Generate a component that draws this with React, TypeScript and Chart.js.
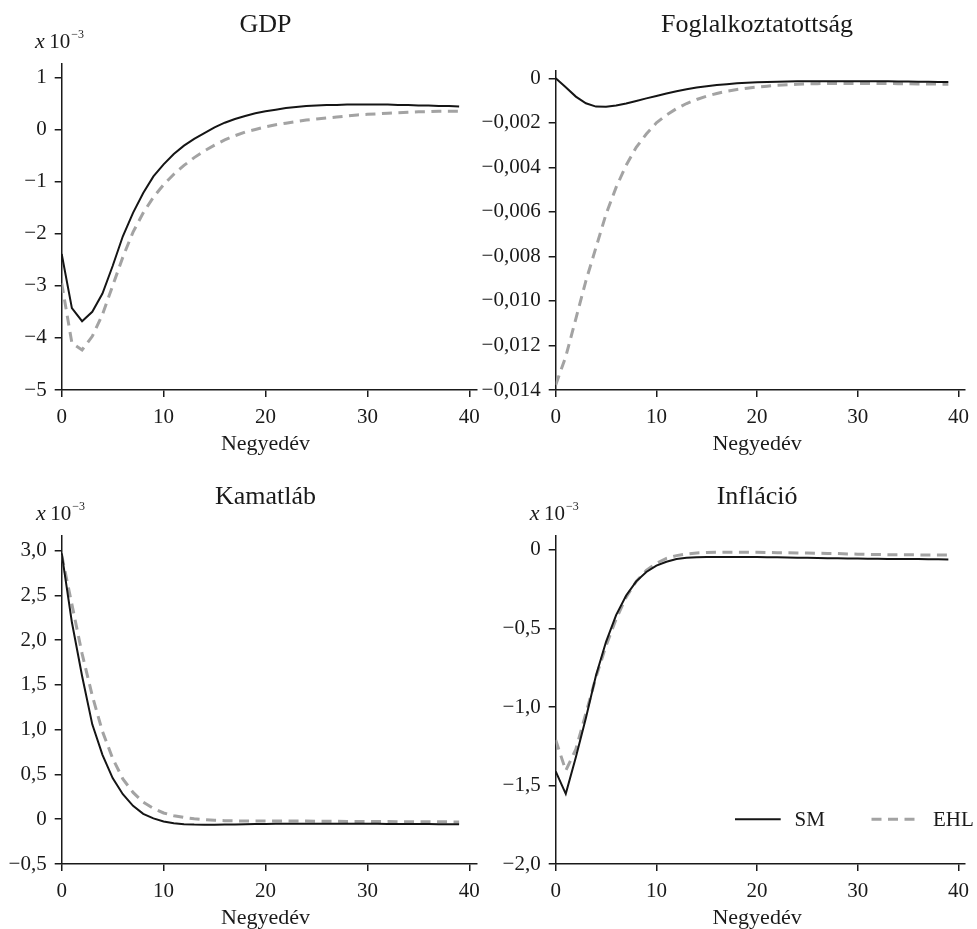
import React, { useEffect, useRef } from 'react';
import { Chart, registerables } from 'chart.js';

Chart.register(...registerables);

// ---------- DATA ----------
const quarters = [0,1,2,3,4,5,6,7,8,9,10,11,12,13,14,15,16,17,18,19,20,21,22,23,24,25,26,27,28,29,30,31,32,33,34,35,36,37,38,39];
const xTicks = [0, 10, 20, 30, 40];
const seriesNames = ['SM', 'EHL'];

const gdpSM = [-2.39,-3.43,-3.68,-3.50,-3.15,-2.62,-2.05,-1.60,-1.22,-0.90,-0.67,-0.47,-0.31,-0.18,-0.07,0.04,0.13,0.20,0.26,0.31,0.35,0.38,0.41,0.43,0.45,0.46,0.47,0.47,0.48,0.48,0.48,0.48,0.48,0.47,0.47,0.46,0.46,0.45,0.45,0.44];
const gdpEHL = [-2.95,-4.10,-4.23,-3.97,-3.55,-3.00,-2.45,-1.97,-1.60,-1.30,-1.06,-0.86,-0.69,-0.54,-0.41,-0.30,-0.20,-0.12,-0.05,0.00,0.05,0.09,0.12,0.15,0.18,0.20,0.22,0.24,0.26,0.28,0.29,0.30,0.31,0.32,0.33,0.34,0.34,0.35,0.35,0.35];

const empSM = [0,-0.0004,-0.00082,-0.00112,-0.00127,-0.00128,-0.00122,-0.00113,-0.00102,-0.0009,-0.00079,-0.00068,-0.00058,-0.00049,-0.00041,-0.00035,-0.0003,-0.00026,-0.00022,-0.0002,-0.00018,-0.00016,-0.00015,-0.00014,-0.00013,-0.00013,-0.00013,-0.00013,-0.00013,-0.00013,-0.00013,-0.00013,-0.00013,-0.00013,-0.00014,-0.00014,-0.00015,-0.00015,-0.00016,-0.00016];
const empEHL = [-0.01377,-0.0125,-0.0108,-0.0091,-0.0076,-0.0061,-0.0049,-0.0039,-0.0031,-0.0025,-0.002,-0.00165,-0.00136,-0.00113,-0.00095,-0.0008,-0.00068,-0.00058,-0.0005,-0.00044,-0.00039,-0.00035,-0.00031,-0.00029,-0.00027,-0.00025,-0.00024,-0.00023,-0.00023,-0.00023,-0.00023,-0.00023,-0.00023,-0.00023,-0.00024,-0.00024,-0.00025,-0.00025,-0.00026,-0.00026];

const rateSM = [2.97,2.2,1.6,1.06,0.72,0.46,0.28,0.15,0.06,0.01,-0.025,-0.045,-0.055,-0.06,-0.062,-0.062,-0.06,-0.058,-0.056,-0.054,-0.052,-0.05,-0.05,-0.05,-0.05,-0.05,-0.05,-0.05,-0.05,-0.05,-0.05,-0.051,-0.052,-0.052,-0.053,-0.054,-0.054,-0.055,-0.055,-0.056];
const rateEHL = [2.95,2.4,1.85,1.38,0.98,0.68,0.45,0.3,0.19,0.12,0.07,0.04,0.02,0.005,-0.005,-0.012,-0.016,-0.018,-0.02,-0.02,-0.02,-0.02,-0.02,-0.021,-0.021,-0.022,-0.022,-0.023,-0.024,-0.024,-0.025,-0.026,-0.026,-0.027,-0.027,-0.028,-0.028,-0.029,-0.029,-0.03];

const inflSM = [-1.41,-1.553,-1.32,-1.07,-0.80,-0.585,-0.415,-0.29,-0.20,-0.14,-0.10,-0.075,-0.058,-0.05,-0.046,-0.045,-0.045,-0.045,-0.045,-0.045,-0.045,-0.046,-0.047,-0.048,-0.049,-0.05,-0.051,-0.052,-0.053,-0.054,-0.055,-0.056,-0.056,-0.057,-0.057,-0.058,-0.058,-0.059,-0.059,-0.06];
const inflEHL = [-1.21,-1.405,-1.27,-1.04,-0.81,-0.61,-0.44,-0.30,-0.20,-0.13,-0.085,-0.053,-0.036,-0.026,-0.019,-0.016,-0.015,-0.015,-0.015,-0.015,-0.015,-0.016,-0.017,-0.018,-0.019,-0.02,-0.021,-0.022,-0.023,-0.025,-0.027,-0.028,-0.029,-0.03,-0.03,-0.031,-0.031,-0.032,-0.032,-0.032];

const titles = ['GDP', 'Foglalkoztatottság', 'Kamatláb', 'Infláció'];
const xAxisTitle = 'Negyedév';
const exponentText = ['x', '10', '−3'];

// ---------- LAYOUT / STYLE ----------
const FONT = '"Liberation Serif", "DejaVu Serif", serif';
const INK = '#1a1a1a';
const SM_COLOR = '#151515';
const EHL_COLOR = '#a3a3a3';
const EHL_DASH = [10, 6.5];
const TICK_SIZE = 21;

type Panel = {
  title: string; sm: number[]; ehl: number[];
  yMin: number; yMax: number; yStep: number; dec: number; xMax: number;
  box: { left: number; top: number; width: number; height: number };
  area: { left: number; top: number; right: number; bottom: number };
  titleY: number; axisTitleY: number;
  exp: null | { x: number; y: number };
  legend: null | { y: number; x1: number; x2: number; tx1: number; x3: number; x4: number; tx2: number; ty: number };
};

const panels: Panel[] = [
  {
    title: titles[0], sm: gdpSM, ehl: gdpEHL, yMin: -5, yMax: 1.27, yStep: 1, dec: 0, xMax: 40.7,
    box: { left: 0, top: 0, width: 488, height: 460 },
    area: { left: 61.7, top: 63.3, right: 477.7, bottom: 390 },
    titleY: 32, axisTitleY: 450, exp: { x: 35, y: 47.5 }, legend: null,
  },
  {
    title: titles[1], sm: empSM, ehl: empEHL, yMin: -0.014, yMax: 0.00033, yStep: 0.002, dec: 3, xMax: 40.62,
    box: { left: 470, top: 0, width: 507, height: 460 },
    area: { left: 85.7, top: 71, right: 501, bottom: 390 },
    titleY: 32, axisTitleY: 450, exp: null, legend: null,
  },
  {
    title: titles[2], sm: rateSM, ehl: rateEHL, yMin: -0.5, yMax: 3.164, yStep: 0.5, dec: 1, xMax: 40.7,
    box: { left: 0, top: 460, width: 488, height: 469 },
    area: { left: 61.7, top: 76, right: 477.7, bottom: 404 },
    titleY: 44, axisTitleY: 464, exp: { x: 36, y: 60 }, legend: null,
  },
  {
    title: titles[3], sm: inflSM, ehl: inflEHL, yMin: -2, yMax: 0.089, yStep: 0.5, dec: 1, xMax: 40.62,
    box: { left: 470, top: 460, width: 507, height: 469 },
    area: { left: 85.7, top: 76, right: 501, bottom: 404 },
    titleY: 44, axisTitleY: 464, exp: { x: 59.7, y: 60 },
    legend: { y: 359.3, x1: 265, x2: 310.7, tx1: 324.5, x3: 401.5, x4: 447, tx2: 463, ty: 366 },
  },
];

const fmt = (v: number, d: number) => {
  if (Math.abs(v) < 1e-9) return '0';
  return (v < 0 ? '−' : '') + Math.abs(v).toFixed(d).replace('.', ',');
};

const textPlugin = {
  id: 'panelText',
  afterDraw(chart: any, _args: any, opts: any) {
    const p: Panel = opts.panel;
    if (!p) return;
    const ctx = chart.ctx as CanvasRenderingContext2D;
    const xs = chart.scales.x;
    const cx = (xs.getPixelForValue(xTicks[0]) + xs.getPixelForValue(xTicks[xTicks.length - 1])) / 2;
    ctx.save();
    ctx.fillStyle = INK;
    ctx.textBaseline = 'alphabetic';
    ctx.textAlign = 'center';
    ctx.font = `26px ${FONT}`;
    ctx.fillText(p.title, cx, p.titleY);
    ctx.font = `22px ${FONT}`;
    ctx.fillText(xAxisTitle, cx, p.axisTitleY);
    if (p.exp) {
      ctx.textAlign = 'left';
      let x = p.exp.x;
      ctx.font = `italic 22px ${FONT}`;
      ctx.fillText(exponentText[0], x, p.exp.y);
      x += ctx.measureText(exponentText[0] + ' ').width - 1;
      ctx.font = `21px ${FONT}`;
      ctx.fillText(exponentText[1], x, p.exp.y);
      x += ctx.measureText(exponentText[1]).width + 1;
      ctx.font = `12px ${FONT}`;
      ctx.fillText(exponentText[2], x, p.exp.y - 10);
    }
    if (p.legend) {
      const L = p.legend;
      const ds = chart.data.datasets;
      const items = [
        { x1: L.x1, x2: L.x2, tx: L.tx1, d: ds[0] },
        { x1: L.x3, x2: L.x4, tx: L.tx2, d: ds[1] },
      ];
      for (const it of items) {
        ctx.save();
        ctx.strokeStyle = it.d.borderColor;
        ctx.lineWidth = it.d.borderWidth;
        ctx.setLineDash(it.d.borderDash || []);
        ctx.beginPath();
        ctx.moveTo(it.x1, L.y);
        ctx.lineTo(it.x2, L.y);
        ctx.stroke();
        ctx.restore();
        ctx.font = `21px ${FONT}`;
        ctx.textAlign = 'left';
        ctx.fillStyle = INK;
        ctx.fillText(it.d.label, it.tx, L.ty);
      }
    }
    ctx.restore();
  },
};

function PanelChart({ p }: { p: Panel }) {
  const ref = useRef<HTMLCanvasElement | null>(null);
  useEffect(() => {
    if (!ref.current) return;
    const a = p.area;
    const W = p.box.width, H = p.box.height;
    const chart = new Chart(ref.current, {
      type: 'line',
      data: {
        datasets: [
          {
            label: seriesNames[0],
            data: quarters.map((q, i) => ({ x: q, y: p.sm[i] })),
            borderColor: SM_COLOR, borderWidth: 2, pointRadius: 0, tension: 0, fill: false,
          },
          {
            label: seriesNames[1],
            data: quarters.map((q, i) => ({ x: q, y: p.ehl[i] })),
            borderColor: EHL_COLOR, borderWidth: 3, borderDash: EHL_DASH, pointRadius: 0, tension: 0, fill: false,
          },
        ],
      },
      options: {
        animation: false,
        responsive: false,
        maintainAspectRatio: false,
        devicePixelRatio: 1,
        layout: { padding: { left: 0, top: a.top, right: W - a.right, bottom: 0 } },
        plugins: {
          legend: { display: false },
          title: { display: false },
          tooltip: { enabled: false },
          panelText: { panel: p },
        } as any,
        scales: {
          x: {
            type: 'linear', min: 0, max: p.xMax,
            afterFit: (s: any) => { s.height = H - a.bottom; },
            afterBuildTicks: (s: any) => { s.ticks = xTicks.map((v) => ({ value: v })); },
            border: { display: true, color: INK, width: 1.5 },
            grid: { display: true, drawOnChartArea: false, drawTicks: true, tickLength: 7, color: INK, lineWidth: 1.5 },
            ticks: { color: INK, font: { family: FONT, size: TICK_SIZE }, padding: 8, maxRotation: 0, autoSkip: false, includeBounds: false },
          },
          y: {
            type: 'linear', min: p.yMin, max: p.yMax,
            afterFit: (s: any) => { s.width = a.left; },
            border: { display: true, color: INK, width: 1.5 },
            grid: { display: true, drawOnChartArea: false, drawTicks: true, tickLength: 7, color: INK, lineWidth: 1.5 },
            ticks: {
              color: INK, font: { family: FONT, size: TICK_SIZE }, padding: 8, stepSize: p.yStep, includeBounds: false, autoSkip: false,
              callback: (v: any) => fmt(Number(v), p.dec),
            },
          },
        },
      } as any,
      plugins: [textPlugin],
    });
    return () => chart.destroy();
  }, [p]);
  return (
    <canvas
      ref={ref}
      width={p.box.width}
      height={p.box.height}
      style={{ position: 'absolute', left: p.box.left, top: p.box.top, width: p.box.width, height: p.box.height, display: 'block' }}
    />
  );
}

export default function App() {
  return (
    <div style={{ position: 'absolute', left: 0, top: 0, width: 977, height: 929, background: '#ffffff', overflow: 'hidden' }}>
      {panels.map((p, i) => (
        <PanelChart key={i} p={p} />
      ))}
    </div>
  );
}
